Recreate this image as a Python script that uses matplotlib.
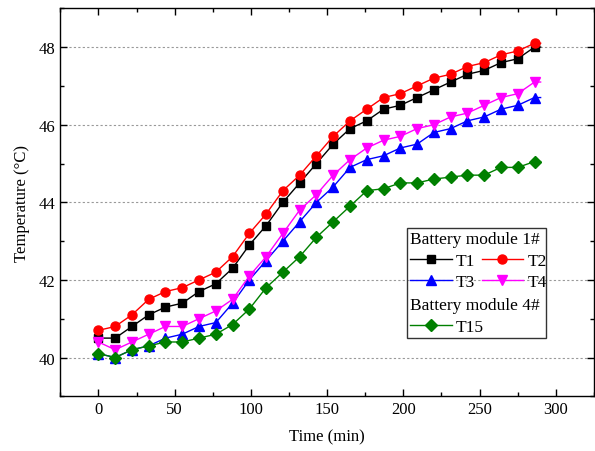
import matplotlib
matplotlib.use("Agg")
import matplotlib.pyplot as plt
from matplotlib.patches import Rectangle
from matplotlib.ticker import MultipleLocator

plt.rcParams.update({
    "font.family": ["Liberation Serif", "DejaVu Serif"],
    "font.size": 12,
})

# marker times (min); the logged curves run slightly past the last marker
time = [0, 11, 22, 33, 44, 55, 66, 77, 88, 99, 110, 121, 132, 143,
        154, 165, 176, 187, 198, 209, 220, 231, 242, 253, 264, 275, 286, 290]

t1 = [40.5, 40.5, 40.8, 41.1, 41.3, 41.4, 41.7, 41.9, 42.3, 42.9, 43.4, 44.0,
      44.5, 45.0, 45.5, 45.9, 46.1, 46.4, 46.5, 46.7, 46.9, 47.1, 47.3, 47.4,
      47.6, 47.7, 48.0, 48.0]
t2 = [40.7, 40.8, 41.1, 41.5, 41.7, 41.8, 42.0, 42.2, 42.6, 43.2, 43.7, 44.3,
      44.7, 45.2, 45.7, 46.1, 46.4, 46.7, 46.8, 47.0, 47.2, 47.3, 47.5, 47.6,
      47.8, 47.9, 48.1, 48.1]
t3 = [40.1, 40.0, 40.2, 40.3, 40.5, 40.6, 40.8, 40.9, 41.4, 42.0, 42.5, 43.0,
      43.5, 44.0, 44.4, 44.9, 45.1, 45.2, 45.4, 45.5, 45.8, 45.9, 46.1, 46.2,
      46.4, 46.5, 46.7, 46.7]
t4 = [40.4, 40.2, 40.4, 40.6, 40.8, 40.8, 41.0, 41.2, 41.5, 42.1, 42.6, 43.2,
      43.8, 44.2, 44.7, 45.1, 45.4, 45.6, 45.7, 45.9, 46.0, 46.2, 46.3, 46.5,
      46.7, 46.8, 47.1, 47.1]
t15 = [40.1, 40.0, 40.2, 40.3, 40.4, 40.4, 40.5, 40.6, 40.85, 41.25, 41.8, 42.2,
       42.6, 43.1, 43.5, 43.9, 44.3, 44.35, 44.5, 44.5, 44.6, 44.65, 44.7, 44.7,
       44.9, 44.9, 45.05, 45.05]

fig = plt.figure(figsize=(5.95, 4.52), dpi=100)
ax = fig.add_axes([0.1013, 0.121, 0.897, 0.8584])

marks = list(range(len(time) - 1))
kw = dict(lw=1.0, markevery=marks)
h1, = ax.plot(time, t1, "-s", color="black", ms=6, label="T1", **kw)
h2, = ax.plot(time, t2, "-o", color="red", ms=6.5, label="T2", **kw)
h3, = ax.plot(time, t3, "-^", color="blue", ms=7, label="T3", **kw)
h4, = ax.plot(time, t4, "-v", color="magenta", ms=7, label="T4", **kw)
h15, = ax.plot(time, t15, "-D", color="green", ms=6, label="T15", **kw)

ax.set_xlim(-25, 325)
ax.set_ylim(39, 49)
ax.xaxis.set_major_locator(MultipleLocator(50))
ax.xaxis.set_minor_locator(MultipleLocator(25))
ax.yaxis.set_major_locator(MultipleLocator(2))
ax.yaxis.set_minor_locator(MultipleLocator(1))
ax.tick_params(which="both", direction="in", top=True, right=True,
               labelsize=12, width=1.0)
ax.tick_params(which="major", length=5)
ax.tick_params(which="minor", length=3)
ax.grid(axis="y", which="major", color="#999999", ls=(0, (2, 2)), lw=0.8)
for s in ax.spines.values():
    s.set_linewidth(1.0)

ax.set_xlabel("Time (min)", fontsize=12, labelpad=8)
ax.set_ylabel("Temperature (\u00b0C)", fontsize=12, labelpad=6)

# legend: two titled groups inside one frame
leg_kw = dict(frameon=False, fontsize=12.5, title_fontsize=12.5,
              handlelength=2.4, handletextpad=0.25, columnspacing=0.35,
              labelspacing=0.3, borderaxespad=0, borderpad=0.2,
              loc="upper left", alignment="left")
leg1 = ax.legend([h1, h3, h2, h4], ["T1", "T3", "T2", "T4"], ncol=2,
                 title="Battery module 1#",
                 bbox_to_anchor=(0.649, 0.4338), **leg_kw)
ax.add_artist(leg1)
leg2 = ax.legend([h15], ["T15"], title="Battery module 4#",
                 bbox_to_anchor=(0.649, 0.2637), **leg_kw)
ax.add_patch(Rectangle((0.649, 0.150), 0.261, 0.2838, transform=ax.transAxes,
                       fill=False, edgecolor="#333333", lw=1.0, zorder=5))

fig.savefig("out.png", dpi=100)
